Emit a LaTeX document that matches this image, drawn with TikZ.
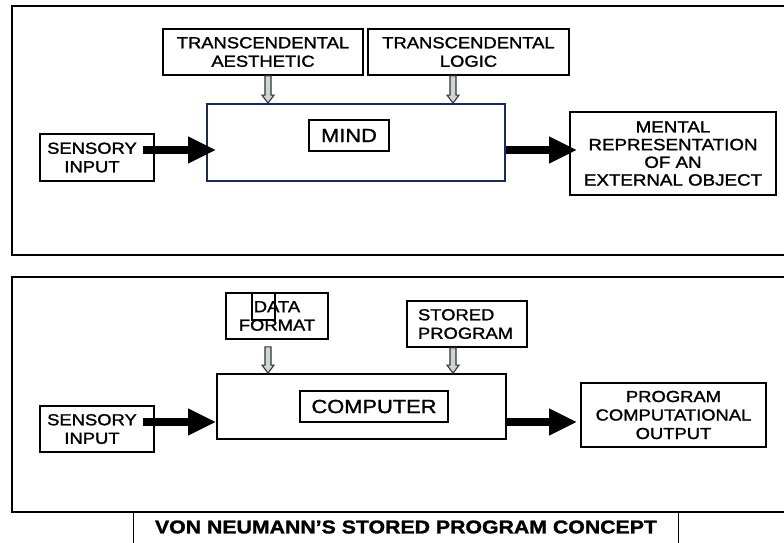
\documentclass[tikz,border=0pt]{standalone}
\usepackage{fontspec}
\setmainfont{Liberation Sans}[FakeStretch=1.15, FakeBold=1.4]
\usetikzlibrary{arrows.meta,calc}
\definecolor{navy}{HTML}{1A2A5A}
\definecolor{hollowfill}{HTML}{CDD5D5}
\tikzset{
  panel/.style={draw=black, line width=2.6pt},
  boxstyle/.style={draw=black, line width=1.7pt, inner sep=0pt, align=center,
     font=\fontsize{16}{18.5}\selectfont},
  plaintext/.style={inner sep=0pt, align=center, font=\fontsize{16}{18.5}\selectfont},
  labelbox/.style={boxstyle, font=\fontsize{19}{21}\selectfont},
  thickarrow/.style={line width=8pt, -{Triangle[length=28pt,width=25pt]}},
  hollow/.style={draw=black!80, fill=hollowfill, line width=1.1pt, line join=miter},
}
\newcommand{\hollowdown}[2]{%
  \path (#1) coordinate (hs) (#2) coordinate (he);
  \draw[hollow] ($(hs)+(-3,0)$) -- ($(he)+(-3,-8)$) -- ($(he)+(-6,-8)$) -- (he)
     -- ($(he)+(6,-8)$) -- ($(he)+(3,-8)$) -- ($(hs)+(3,0)$) -- cycle;}
\begin{document}
\begin{tikzpicture}[x=1pt,y=-1pt]
\useasboundingbox (0,0) rectangle (784,542);
\clip (0,0) rectangle (784,542);
\fill[white] (0,0) rectangle (784,542);

% ---------- top panel ----------
\draw[panel] (12,6) rectangle (795,255);
\node[boxstyle, minimum width=200pt, minimum height=46pt] (aes) at (263,52)
  {TRANSCENDENTAL\\AESTHETIC};
\node[boxstyle, minimum width=201pt, minimum height=46pt] (logic) at (468.5,52)
  {TRANSCENDENTAL\\LOGIC};
\node[draw=navy, line width=1.7pt, minimum width=298pt, minimum height=77pt] (mind) at (356,142.5) {};
\node[labelbox, minimum width=80pt, minimum height=31pt] (mindlbl) at (349,135.5) {MIND};
\node[draw=black, line width=1.7pt, minimum width=114pt, minimum height=47pt] (sens1) at (97,157.5) {};
\node[plaintext] (sens1txt) at ([xshift=-5pt]sens1.center) {SENSORY\\INPUT};
\node[boxstyle, minimum width=206pt, minimum height=83pt,
      font=\fontsize{16.3}{17.7}\selectfont] (mental) at (673,153.5)
  {MENTAL\\REPRESENTATION\\OF AN\\EXTERNAL OBJECT};

\coordinate (ya) at (0,150);
\draw[thickarrow] ([xshift=-12pt]sens1.east |- ya) -- ([xshift=10pt]mind.west |- ya);
\draw[thickarrow] (mind.east |- ya) -- ([xshift=8pt]mental.west |- ya);
\hollowdown{[xshift=5pt]aes.south}{[xshift=5pt]aes.south |- mind.north}
\hollowdown{[xshift=-15.5pt]logic.south}{[xshift=-15.5pt]logic.south |- mind.north}

% ---------- bottom panel ----------
\draw[panel] (12,277) rectangle (795,512);
\node[boxstyle, minimum width=102pt, minimum height=46pt] (data) at (277,316)
  {DATA\\FORMAT};
\draw[line width=1.2pt] (252,293) rectangle (275,320);
\node[boxstyle, align=left, text width=98pt, minimum width=120pt, minimum height=46pt] (stored) at (467,324)
  {STORED\\PROGRAM};
\node[draw=black, line width=1.7pt, minimum width=289pt, minimum height=65pt] (comp) at (361.5,406.5) {};
\node[labelbox, minimum width=148pt, minimum height=31pt] (complbl) at (374,406.5) {COMPUTER};
\node[draw=black, line width=1.7pt, minimum width=114pt, minimum height=46pt] (sens2) at (97,429) {};
\node[plaintext] (sens2txt) at ([xshift=-5pt]sens2.center) {SENSORY\\INPUT};
\node[boxstyle, minimum width=185pt, minimum height=64pt] (out) at (673.5,415)
  {PROGRAM\\COMPUTATIONAL\\OUTPUT};

\coordinate (yb) at (0,422);
\draw[thickarrow] ([xshift=-12pt]sens2.east |- yb) -- (comp.west |- yb);
\draw[thickarrow] (comp.east |- yb) -- ([xshift=-3pt]out.west |- yb);
\hollowdown{[shift={(-9pt,-7pt)}]data.south}{[xshift=-9pt]data.south |- comp.north}
\hollowdown{[xshift=-14pt]stored.south}{[xshift=-14pt]stored.south |- comp.north}

% ---------- caption ----------
\node[draw=black, line width=1.4pt, minimum width=545pt, minimum height=40pt, anchor=north west,
      inner sep=0pt] (cap) at (133,512) {};
\node[font=\fontsize{18.5}{20}\selectfont\bfseries, inner sep=0pt] (captxt) at (406,527)
  {VON NEUMANN’S STORED PROGRAM CONCEPT};
\end{tikzpicture}
\end{document}
